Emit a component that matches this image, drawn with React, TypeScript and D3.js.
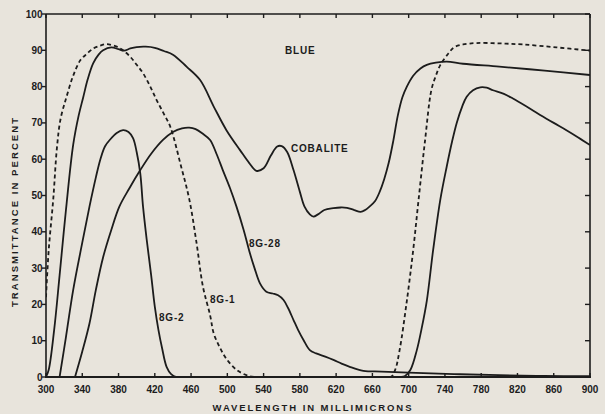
import React from 'react';
import * as d3 from 'd3';

const xTicks = [300, 340, 380, 420, 460, 500, 540, 580, 620, 660, 700, 740, 780, 820, 860, 900];
const yTicks = [0, 10, 20, 30, 40, 50, 60, 70, 80, 90, 100];

// 8G-1 (dashed)
const g1X = [300, 303, 308, 312, 316, 323, 330, 338, 345, 352, 360, 367, 378, 385, 393, 400, 407, 415, 422, 430, 437, 449, 458, 466, 473, 481, 485, 492, 499, 510, 521, 530, 600, 680, 685, 690, 698, 705, 711, 718, 725, 730, 735, 744, 750, 760, 775, 800, 826, 863, 900];
const g1Y = [22, 35, 49, 63, 71, 77.5, 83, 87.3, 89, 90.5, 91.3, 91.7, 91, 90, 88.2, 86, 83.7, 80, 76.3, 72.5, 69, 58, 49, 37, 25, 17, 12, 8, 5, 2, 0.5, 0, 0, 0, 1.9, 7.4, 21, 35, 49, 65, 79, 83, 86, 89.2, 90.8, 91.6, 92, 91.9, 91.6, 90.8, 89.9];

// Cobalite (large solid)
const cobX = [300, 303, 309, 315, 322, 330, 336, 341, 346, 352, 358, 363, 372, 380, 386, 393, 400, 410, 420, 430, 440, 455, 470, 485, 499, 514, 524, 532, 540, 548, 555, 560, 566, 573, 580, 585, 591, 595, 600, 607, 617, 625, 632, 640, 647, 652, 657, 663, 668, 673, 678, 683, 688, 693, 698, 705, 713, 720, 730, 742, 760, 800, 850, 900];
const cobY = [0, 2, 13, 28, 46, 64, 72, 77, 82, 86.4, 88.8, 90, 90.8, 90.3, 89.9, 90.5, 90.9, 91, 90.7, 89.8, 88.8, 85.5, 81.8, 74.5, 68, 62.5, 59, 56.8, 57.5, 61, 63.5, 63.6, 62, 57, 51, 47, 44.8, 44.2, 44.8, 46, 46.5, 46.7, 46.6, 46, 45.5, 46, 47, 48.5, 51, 54.5, 59, 65, 72, 77, 80, 83, 85, 86, 86.6, 86.9, 86.3, 85.5, 84.4, 83.2];

// 8G-2 (solid, narrow)
const g2X = [315, 322, 330, 340, 348, 355, 360, 365, 371, 378, 385, 391, 396, 400, 404, 407, 411, 416, 420, 424, 428, 433, 438, 444, 500, 600, 690, 696, 702, 709, 714, 720, 727, 735, 742, 748, 753, 759, 764, 771, 779, 786, 793, 805, 815, 830, 845, 860, 874, 887, 900];
const g2Y = [0, 11, 24, 37, 47, 55, 60, 63.5, 65.5, 67.2, 68, 67.5, 65.8, 62, 56, 47, 38, 28, 19.4, 13, 8, 2.8, 0.8, 0, 0, 0, 0, 0.3, 2, 7.4, 13, 21, 35, 49, 58, 65, 70, 74.5, 77.2, 79, 79.8, 79.7, 79, 78, 76.7, 74.5, 72.2, 70, 68, 66, 63.9];

// 8G-28 (solid)
const g28X = [332, 340, 348, 355, 363, 372, 381, 392, 404, 416, 429, 440, 450, 458, 465, 473, 481, 488, 495, 503, 510, 518, 525, 530, 536, 543, 550, 556, 562, 567, 573, 578, 584, 591, 598, 608, 617, 626, 635, 650, 670, 700, 750, 800, 850, 900];
const g28Y = [0, 7, 14.8, 24, 33, 40.5, 47, 52, 57, 61.5, 65.3, 67.5, 68.5, 68.7, 68.3, 67, 65.3, 61.5, 57, 52, 47, 40.5, 34, 30, 25.8, 23.5, 23, 22.5, 21.2, 19, 15.7, 13, 10.2, 7.4, 6.5, 5.6, 4.7, 3.7, 2.8, 1.7, 1.5, 1.2, 0.8, 0.5, 0.3, 0.2];

const curveLabels = ['BLUE', 'COBALITE', '8G-28', '8G-1', '8G-2'];
const labelAt = [[285, 90], [291, 63], [249, 36.8], [210, 21.3], [159, 16.4]]; // [px x, percent y]

const W = 605, H = 414;
const L = 46, R = 590, T = 14, B = 377;
const INK = '#1c1c1c';
const FONT = '"Liberation Sans", Arial, sans-serif';

export default function App() {
  const x = d3.scaleLinear().domain([300, 900]).range([L, R]);
  const y = d3.scaleLinear().domain([0, 100]).range([B, T]);
  const line = d3.line<number>().curve(d3.curveCatmullRom.alpha(0.5));
  const mk = (xs: number[], ys: number[]) =>
    line.x((_, i) => x(xs[i])).y((_, i) => y(ys[i]))(xs as any) || '';

  const series = [
    { d: mk(g1X, g1Y), dash: '4 3' },
    { d: mk(cobX, cobY), dash: undefined },
    { d: mk(g2X, g2Y), dash: undefined },
    { d: mk(g28X, g28Y), dash: undefined },
  ];

  return (
    <svg width={W} height={H} style={{ position: 'absolute', left: 0, top: 0, background: '#e8e4dc' }}>
      <rect x={0} y={0} width={W} height={H} fill="#e8e4dc" />
      <defs>
        <clipPath id="plot">
          <rect x={L} y={T - 2} width={R - L} height={B - T + 2} />
        </clipPath>
      </defs>
      <g clipPath="url(#plot)" fill="none" stroke={INK} strokeWidth={1.8} strokeLinejoin="round">
        {series.map((s, i) => (
          <path key={i} d={s.d} strokeDasharray={s.dash} />
        ))}
      </g>
      {/* frame */}
      <g stroke={INK} fill="none">
        <line x1={L} y1={T} x2={R} y2={T} strokeWidth={1.5} />
        <line x1={L} y1={T} x2={L} y2={B} strokeWidth={1.6} />
        <line x1={R} y1={T} x2={R} y2={B} strokeWidth={1.6} />
        <line x1={L - 1} y1={B} x2={R + 1} y2={B} strokeWidth={2.2} />
        {xTicks.map((t) => (
          <g key={'xt' + t}>
            <line x1={x(t)} x2={x(t)} y1={B} y2={B - 4} strokeWidth={1.4} />
            <line x1={x(t)} x2={x(t)} y1={T} y2={T + 4} strokeWidth={1.4} />
          </g>
        ))}
        {yTicks.map((t) => (
          <g key={'yt' + t}>
            <line x1={L - 4} x2={L} y1={y(t)} y2={y(t)} strokeWidth={1.4} />
            <line x1={R - 5} x2={R} y1={y(t)} y2={y(t)} strokeWidth={1.4} />
          </g>
        ))}
      </g>
      <g fontFamily={FONT} fontSize={10} fill={INK} fontWeight={600}>
        {xTicks.map((t) => (
          <text key={'xl' + t} x={x(t)} y={392.5} textAnchor="middle">{t}</text>
        ))}
        {yTicks.map((t) => (
          <text key={'yl' + t} x={42.5} y={y(t)} dy="0.35em" textAnchor="end">{t}</text>
        ))}
        {curveLabels.map((s, i) => (
          <text key={s} x={labelAt[i][0]} y={y(labelAt[i][1])} dy="0.35em" letterSpacing={0.8}>{s}</text>
        ))}
        <text x={212.5} y={411} textLength={199} lengthAdjust="spacing" fontSize={9.5}>WAVELENGTH IN MILLIMICRONS</text>
        <text transform="translate(17.5,307) rotate(-90)" x={0} y={0} textLength={189} lengthAdjust="spacing" fontSize={9.5}>TRANSMITTANCE IN PERCENT</text>
      </g>
    </svg>
  );
}
